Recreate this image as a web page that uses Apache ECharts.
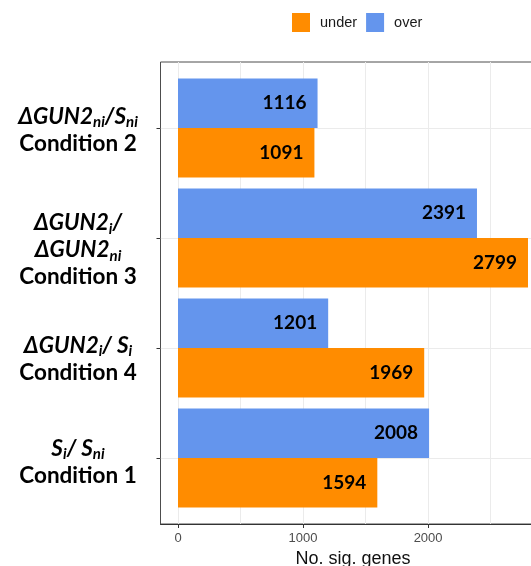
<!DOCTYPE html>
<html>
<head>
<meta charset="utf-8">
<script src="https://cdn.jsdelivr.net/npm/echarts@6/dist/echarts.min.js"></script>
<style>
  html, body { margin: 0; padding: 0; background: #fff; }
  #chart { width: 531px; height: 566px; }
</style>
</head>
<body>
<div id="chart"></div>
<script>
// Comparisons, listed bottom to top on the category axis
const categories = ['Condition 1', 'Condition 4', 'Condition 3', 'Condition 2'];
const ratioLabels = [
  '{i|S}{s|i}{i|/ S}{s|ni}',
  '{i|ΔGUN2}{s|i}{i|/ S}{s|i}',
  '{i|ΔGUN2}{s|i}{i|/}\n{i|ΔGUN2}{s|ni}',
  '{i|ΔGUN2}{s|ni}{i|/S}{s|ni}'
];
// Number of significantly regulated genes
const underValues = [1594, 1969, 2799, 1091];
const overValues = [2008, 1201, 2391, 1116];
const seriesNames = ['under', 'over'];
const xTickValues = [0, 1000, 2000];
const xMinorValues = [500, 1500, 2500];
const yTickValues = [1, 2, 3, 4];

const xMin = -140, xMax = 2939;      // value range of the panel
const yMin = 0.4, yMax = 4.6;        // panel range in category units

const chart = echarts.init(document.getElementById('chart'), null, { renderer: 'canvas' });

const labelShift = [8, 22, 24, 4];
const gridLineStyle = { color: '#ebebeb', width: 1, type: 'solid' };
const labelFont = { fontFamily: 'Lato', fontWeight: 'bold', color: '#000', align: 'center' };

const barLabel = { show: true, position: 'insideRight', distance: 11, fontFamily: 'Lato', fontWeight: 'bold', fontSize: 19, color: '#000' };

const option = {
  animation: false,
  backgroundColor: '#ffffff',
  legend: {
    data: seriesNames,
    left: 292,
    top: 13,
    padding: 0,
    itemWidth: 18,
    itemHeight: 19,
    itemGap: 9,
    icon: 'rect',
    textStyle: { fontFamily: 'Liberation Sans', fontSize: 14.5, color: '#1a1a1a', padding: [0, 0, 0, 5] }
  },
  grid: [
    // full panel (border + grid lines)
    { left: 160.5, right: -14.5, top: 62, bottom: 42, show: true, borderColor: '#4d4d4d', borderWidth: 1, backgroundColor: '#fff', outerBoundsMode: 'none', containLabel: false },
    // bar area, x = 0 at its left edge, one band per category
    { left: 178, right: -14.5, top: 73, bottom: 53, outerBoundsMode: 'none', containLabel: false }
  ],
  xAxis: [
    {
      gridIndex: 0, type: 'value', min: xMin, max: xMax,
      axisLine: { show: true, onZero: false, lineStyle: { color: '#333', width: 1 } },
      axisTick: { show: true, length: 4, customValues: xTickValues, lineStyle: { color: '#333' } },
      axisLabel: { customValues: xTickValues, margin: 8, fontFamily: 'Liberation Sans', fontSize: 13, color: '#4d4d4d', formatter: v => String(v) },
      splitLine: { show: false },
      name: 'No. sig. genes', nameLocation: 'middle', nameGap: 22,
      nameTextStyle: { fontFamily: 'Liberation Sans', fontSize: 18, color: '#111' }
    },
    {
      gridIndex: 1, type: 'value', min: 0, max: xMax,
      show: false, splitLine: { show: false }
    }
  ],
  yAxis: [
    {
      // ticks at the category centres, on the panel border
      gridIndex: 0, type: 'value', min: yMin, max: yMax,
      axisLine: { show: false, onZero: false },
      axisTick: { show: true, length: 4, customValues: yTickValues, lineStyle: { color: '#333' } },
      axisLabel: { show: false },
      splitLine: { show: false }
    },
    {
      gridIndex: 1, type: 'category',
      data: categories.map((c, i) => ({ value: c, textStyle: { align: 'center', padding: [labelShift[i], 0, 0, 0] } })),
      axisLine: { show: false, onZero: false },
      axisTick: { show: false },
      splitLine: { show: false },
      axisLabel: {
        margin: 100,
        align: 'center',
        formatter: (v, idx) => ratioLabels[idx] + '\n{c|' + v + '}',
        rich: {
          i: Object.assign({ fontStyle: 'italic', fontSize: 22.5, lineHeight: 27 }, labelFont),
          s: Object.assign({ fontStyle: 'italic', fontSize: 15, lineHeight: 14, verticalAlign: 'bottom' }, labelFont),
          c: Object.assign({ fontSize: 22.5, lineHeight: 27 }, labelFont)
        }
      }
    }
  ],
  series: [
    {
      // grid lines of the panel
      type: 'line', xAxisIndex: 0, yAxisIndex: 0, data: [], silent: true, z: 0,
      markLine: {
        silent: true, symbol: 'none', z: 0, animation: false,
        label: { show: false },
        lineStyle: gridLineStyle,
        emphasis: { disabled: true },
        data: xTickValues.concat(xMinorValues).map(v => ({ xAxis: v }))
          .concat(yTickValues.map(v => ({ yAxis: v })))
      }
    },
    {
      name: 'over', type: 'bar', xAxisIndex: 1, yAxisIndex: 1,
      data: overValues, barWidth: 49.5, barGap: '0%', z: 2,
      itemStyle: { color: '#6495ED' },
      label: barLabel
    },
    {
      name: 'under', type: 'bar', xAxisIndex: 1, yAxisIndex: 1,
      data: underValues, barWidth: 49.5, barGap: '0%', z: 2,
      itemStyle: { color: '#FF8C00' },
      label: barLabel
    }
  ]
};

chart.setOption(option);
</script>
</body>
</html>
